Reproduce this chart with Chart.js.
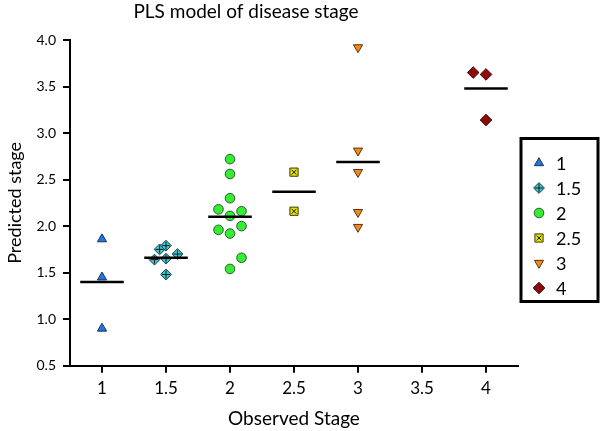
<!DOCTYPE html>
<html>
<head>
<meta charset="utf-8">
<script src="https://cdn.jsdelivr.net/npm/chart.js@4.4.0/dist/chart.umd.min.js"></script>
<style>
html,body{margin:0;padding:0;background:#ffffff;}
#wrap{width:600px;height:431px;}
</style>
</head>
<body>
<div id="wrap"><canvas id="c" width="600" height="431"></canvas></div>
<script>
// ---- data ----
const chartTitle = 'PLS model of disease stage';
const xAxisTitle = 'Observed Stage';
const yAxisTitle = 'Predicted stage';
const seriesLabels = ['1', '1.5', '2', '2.5', '3', '4'];
const observedStages = [1, 1.5, 2, 2.5, 3, 4];

const stage1X = [1.00, 1.00, 1.00];
const stage1Y = [1.86, 1.45, 0.90];
const stage15X = [1.45, 1.50, 1.59, 1.41, 1.50, 1.50];
const stage15Y = [1.75, 1.79, 1.70, 1.64, 1.65, 1.48];
const stage2X = [2.00, 2.00, 2.00, 1.91, 2.00, 2.09, 1.91, 2.00, 2.09, 2.09, 2.00];
const stage2Y = [2.72, 2.56, 2.30, 2.18, 2.11, 2.16, 1.96, 1.92, 2.00, 1.66, 1.54];
const stage25X = [2.50, 2.50];
const stage25Y = [2.58, 2.16];
const stage3X = [3.00, 3.00, 3.00, 3.00, 3.00];
const stage3Y = [3.92, 2.81, 2.58, 2.15, 1.99];
const stage4X = [3.90, 4.00, 4.00];
const stage4Y = [3.65, 3.63, 3.14];

const meanValues = [1.40, 1.66, 2.10, 2.37, 2.69, 3.48];

const xTickValues = [1, 1.5, 2, 2.5, 3, 3.5, 4];
const yTickValues = [0.5, 1.0, 1.5, 2.0, 2.5, 3.0, 3.5, 4.0];

// ---- styling ----
const FONT = 'Lato, "Open Sans", "DejaVu Sans", sans-serif';
const TEXT = '#000000';
const seriesXs = [stage1X, stage15X, stage2X, stage25X, stage3X, stage4X];
const seriesYs = [stage1Y, stage15Y, stage2Y, stage25Y, stage3Y, stage4Y];
const markerStyles = [
  {pointStyle: 'triangle', rotation: 0,   radius: 5.3, bg: '#2277dd', border: '#1d2f55'},
  {pointStyle: 'rectRot',  rotation: 0,   radius: 5.4, bg: '#38ccd6', border: '#1e3b40', overlay: 'cross', overlayRadius: 4},
  {pointStyle: 'circle',   rotation: 0,   radius: 4.8, bg: '#33ee33', border: '#2f5a2f'},
  {pointStyle: 'rect',     rotation: 0,   radius: 5.8, bg: '#e4e400', border: '#3a3a10', overlay: 'crossRot', overlayRadius: 3.4},
  {pointStyle: 'triangle', rotation: 180, radius: 5.3, bg: '#f28a18', border: '#5a3210'},
  {pointStyle: 'rectRot',  rotation: 0,   radius: 5.8, bg: '#8e0b0b', border: '#3a0606'}
];

function toPoints(xs, ys) {
  return xs.map((x, i) => ({x: x, y: ys[i]}));
}

const datasets = [];
seriesLabels.forEach((lab, i) => {
  const m = markerStyles[i];
  datasets.push({
    label: lab,
    data: toPoints(seriesXs[i], seriesYs[i]),
    pointStyle: m.pointStyle,
    pointRotation: m.rotation,
    pointRadius: m.radius,
    pointHoverRadius: m.radius,
    pointBackgroundColor: m.bg,
    pointBorderColor: m.border,
    pointBorderWidth: 1,
    showLine: false,
    order: 3
  });
});
seriesLabels.forEach((lab, i) => {
  const m = markerStyles[i];
  if (!m.overlay) return;
  datasets.push({
    label: lab + ' mark',
    data: toPoints(seriesXs[i], seriesYs[i]),
    pointStyle: m.overlay,
    pointRadius: m.overlayRadius,
    pointHoverRadius: m.overlayRadius,
    pointBackgroundColor: 'rgba(0,0,0,0)',
    pointBorderColor: '#1a1a1a',
    pointBorderWidth: 1,
    showLine: false,
    order: 2
  });
});
observedStages.forEach((s, i) => {
  datasets.push({
    label: 'mean ' + seriesLabels[i],
    data: [{x: s - 0.17, y: meanValues[i]}, {x: s + 0.17, y: meanValues[i]}],
    showLine: true,
    borderColor: '#000000',
    borderWidth: 2.5,
    pointRadius: 0,
    pointHoverRadius: 0,
    order: 1
  });
});

const titleShift = {
  id: 'titleShift',
  afterLayout(chart) {
    const t = chart.titleBlock;
    if (t) { t.left = 0; t.right = 492; t.width = 492; }
  }
};

const boxLegend = {
  id: 'boxLegend',
  afterDraw(chart) {
    const ctx = chart.ctx;
    const H = Chart.helpers;
    const left = 521, top = 138.5, width = 77, height = 163;
    ctx.save();
    ctx.lineWidth = 3;
    ctx.strokeStyle = '#000000';
    ctx.strokeRect(left, top, width, height);
    seriesLabels.forEach((lab, i) => {
      const m = markerStyles[i];
      const y = 163 + i * 25;
      const x = 539;
      ctx.fillStyle = m.bg;
      ctx.strokeStyle = m.border;
      ctx.lineWidth = 1;
      if (H && H.drawPoint) {
        H.drawPoint(ctx, {pointStyle: m.pointStyle, rotation: m.rotation, radius: m.radius, borderWidth: 1}, x, y);
        if (m.overlay) {
          ctx.strokeStyle = '#1a1a1a';
          ctx.fillStyle = 'rgba(0,0,0,0)';
          H.drawPoint(ctx, {pointStyle: m.overlay, rotation: 0, radius: m.overlayRadius, borderWidth: 1}, x, y);
        }
      }
      ctx.fillStyle = TEXT;
      ctx.font = '18px ' + FONT;
      ctx.textAlign = 'left';
      ctx.textBaseline = 'middle';
      ctx.fillText(lab, 556, y + 1);
    });
    ctx.restore();
  }
};

new Chart(document.getElementById('c'), {
  type: 'scatter',
  data: {datasets: datasets},
  plugins: [titleShift, boxLegend],
  options: {
    responsive: false,
    animation: false,
    events: [],
    layout: {padding: {left: 0, right: 82, top: 0, bottom: 0}},
    plugins: {
      legend: {display: false},
      tooltip: {enabled: false},
      title: {
        display: true,
        text: chartTitle,
        color: TEXT,
        font: {family: FONT, size: 19, weight: 'normal'},
        padding: {top: 0, bottom: 17.2}
      }
    },
    scales: {
      x: {
        type: 'linear',
        min: 0.75,
        max: 4.25,
        afterFit(scale) { scale.height = 65.3; },
        afterBuildTicks(scale) { scale.ticks = xTickValues.map(v => ({value: v})); },
        grid: {display: true, drawOnChartArea: false, drawTicks: true, tickLength: 7, color: '#000000', lineWidth: 2},
        border: {display: true, color: '#000000', width: 2},
        ticks: {
          color: TEXT,
          font: {family: FONT, size: 17},
          padding: 6,
          maxRotation: 0,
          autoSkip: false,
          callback: v => String(v)
        },
        title: {
          display: true,
          text: xAxisTitle,
          color: TEXT,
          font: {family: FONT, size: 19},
          padding: {top: 0, bottom: 1}
        }
      },
      y: {
        type: 'linear',
        min: 0.5,
        max: 4.0,
        afterFit(scale) { scale.width = 70; },
        afterBuildTicks(scale) { scale.ticks = yTickValues.map(v => ({value: v})); },
        grid: {display: true, drawOnChartArea: false, drawTicks: true, tickLength: 7, color: '#000000', lineWidth: 2},
        border: {display: true, color: '#000000', width: 2},
        ticks: {
          color: TEXT,
          font: {family: FONT, size: 14},
          padding: 7,
          autoSkip: false,
          callback: v => Number(v).toFixed(1)
        },
        title: {
          display: true,
          text: yAxisTitle,
          color: TEXT,
          font: {family: FONT, size: 18},
          padding: {top: 4, bottom: 0}
        }
      }
    }
  }
});
</script>
</body>
</html>
